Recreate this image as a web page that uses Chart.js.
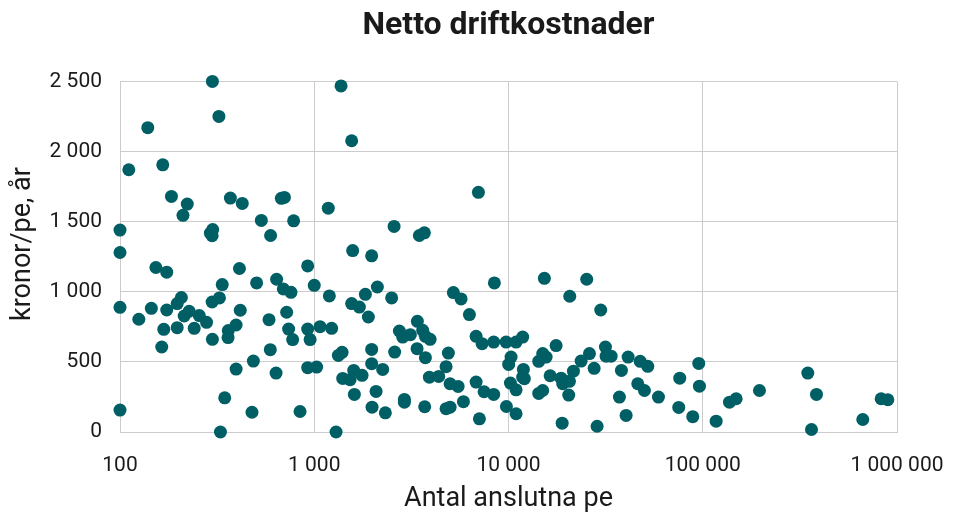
<!DOCTYPE html>
<html>
<head>
<meta charset="utf-8">
<script src="https://cdn.jsdelivr.net/npm/chart.js@4"></script>
<style>
  html, body { margin: 0; padding: 0; background: #fff; }
  canvas { display: block; }
</style>
</head>
<body>
<canvas id="scatter_chart" width="958" height="515"></canvas>
<script>
// antal anslutna pe per anläggning
const antalPe = [
  100, 100, 111, 139, 166, 184, 222, 211, 299, 323,
  292, 300, 298, 370, 426, 534, 596, 677, 702, 783,
  925, 153, 174, 412, 336, 505, 640, 693, 759, 1000,
  100, 125, 145, 174, 197, 207, 197, 168, 164, 214,
  227, 256, 241, 279, 298, 325, 299, 416, 396, 361,
  360, 585, 721, 738, 774, 594, 486, 396, 636, 925,
  952, 925, 1029, 346, 100, 478, 845, 329,
  1374, 1558, 1181, 7000, 2576, 3476, 3689, 1577, 1975, 1196,
  1558, 1707, 1833, 2113, 2503, 1899, 5202, 5701, 8460, 6291,
  1071, 1229, 3395, 2743, 2852, 3125, 3616, 3734, 3948, 6811,
  7313, 8389, 9719, 10940, 1331, 1391, 1975, 1975, 2594, 3383,
  3734, 4903, 4771, 1401, 1529, 1596, 1763, 2250, 1609, 2081,
  3915, 4372, 5003, 5503, 6811, 7487, 8389, 10310, 10020, 10230,
  10940, 2911, 2911, 1984, 2323, 3703, 4771, 5003, 5860, 7083,
  9755, 10940, 1295,
  15300, 25270, 20670, 29840, 11830, 17580, 15000, 14310, 15620, 11930,
  11830, 12070, 16380, 18660, 19010, 20590, 21590, 23650, 26110, 27600,
  31550, 31810, 33750, 41290, 47620, 52110, 38140, 46280, 50100, 37240,
  59150, 76130, 95370, 96160, 75230, 88820, 117200, 14310, 15000, 20420,
  18890, 28590, 40320,
  137300, 148600, 195900, 347300, 385000, 362900, 666600, 828800, 896900
];

// netto driftkostnad, kronor/pe och år
const kronorPerPe = [
  1440, 1280, 1870, 2170, 1905, 1680, 1625, 1545, 2500, 2250,
  1418, 1444, 1400, 1668, 1630, 1509, 1401, 1666, 1673, 1506,
  1184, 1173, 1140, 1166, 1051, 1063, 1089, 1020, 996, 1046,
  889, 804, 882, 870, 916, 959, 744, 732, 606, 827,
  861, 830, 739, 782, 927, 956, 661, 868, 763, 723,
  673, 801, 854, 734, 659, 587, 506, 449, 420, 734,
  659, 459, 463, 244, 156, 141, 146, 0,
  2468, 2077, 1596, 1709, 1466, 1401, 1420, 1294, 1256, 970,
  916, 891, 982, 1034, 956, 820, 994, 949, 1063, 837,
  751, 739, 789, 720, 677, 694, 725, 682, 661, 682,
  630, 641, 641, 641, 546, 568, 589, 487, 570, 594,
  530, 563, 466, 382, 373, 439, 404, 446, 268, 289,
  391, 396, 344, 325, 356, 287, 268, 534, 482, 349,
  301, 232, 213, 177, 137, 180, 166, 177, 216, 94,
  182, 130, 0,
  1096, 1089, 968, 870, 677, 616, 559, 504, 534, 446,
  391, 380, 401, 384, 344, 361, 434, 506, 559, 454,
  606, 541, 541, 534, 504, 468, 439, 344, 296, 249,
  249, 384, 489, 327, 175, 109, 77, 275, 296, 263,
  63, 41, 118,
  213, 237, 296, 420, 268, 18, 89, 237, 230
];

const xTicks = [100, 1000, 10000, 100000, 1000000];
const chartTitle = 'Netto driftkostnader';
const xTitle = 'Antal anslutna pe';
const yTitle = 'kronor/pe, år';

const teal = '#005f64';
const gridColor = '#cccccc';
const textColor = '#1a1a1a';
const fontFamily = 'Roboto, "Liberation Sans", sans-serif';

// 2500 -> "2 500"
function formatNumber(v) {
  return String(v).replace(/\B(?=(\d{3})+(?!\d))/g, ' ');
}

// y-axelns titel ritas själv for att kunna placera den exakt
const yTitlePlugin = {
  id: 'yTitle',
  afterDraw(chart) {
    const ctx = chart.ctx;
    ctx.save();
    ctx.translate(23, 244);
    ctx.rotate(-Math.PI / 2);
    ctx.font = '27px ' + fontFamily;
    ctx.fillStyle = textColor;
    ctx.textAlign = 'center';
    ctx.textBaseline = 'middle';
    ctx.fillText(yTitle, 0, 0);
    ctx.restore();
  }
};

const points = antalPe.map((pe, i) => ({ x: pe, y: kronorPerPe[i] }));

new Chart(document.getElementById('scatter_chart'), {
  type: 'scatter',
  data: {
    datasets: [{
      data: points,
      backgroundColor: teal,
      borderWidth: 0,
      pointRadius: 6.5,
      pointHoverRadius: 6.5,
      clip: false
    }]
  },
  options: {
    responsive: false,
    animation: false,
    devicePixelRatio: 1,
    events: [],
    layout: {
      padding: { left: 0, right: 61, top: 0, bottom: 0 }
    },
    plugins: {
      legend: { display: false },
      tooltip: { enabled: false },
      title: {
        display: true,
        text: chartTitle,
        fullSize: false,
        color: textColor,
        font: { family: fontFamily, size: 32, weight: 'bold' },
        padding: { top: 7, bottom: 36 }
      }
    },
    scales: {
      x: {
        type: 'logarithmic',
        min: 100,
        max: 1000000,
        afterBuildTicks: (axis) => {
          axis.ticks = xTicks.map(v => ({ value: v }));
        },
        afterFit: (s) => { s.height = 83; },
        // osynliga tickmarks ger avståndet ner till etiketterna
        grid: { color: gridColor, drawTicks: true, tickLength: 21, tickColor: 'rgba(0,0,0,0)' },
        border: { color: gridColor },
        ticks: {
          color: textColor,
          padding: 0,
          maxRotation: 0,
          autoSkip: false,
          font: { family: fontFamily, size: 21 },
          callback: (v) => formatNumber(v)
        },
        title: {
          display: true,
          text: xTitle,
          color: textColor,
          font: { family: fontFamily, size: 27 },
          padding: { top: 0, bottom: 0 }
        }
      },
      y: {
        min: 0,
        max: 2500,
        afterFit: (s) => { s.width = 120; },
        grid: { color: gridColor, drawTicks: false },
        border: { color: gridColor },
        ticks: {
          stepSize: 500,
          color: textColor,
          padding: 18,
          font: { family: fontFamily, size: 21 },
          callback: (v) => formatNumber(v)
        }
      }
    }
  },
  plugins: [yTitlePlugin]
});
</script>
</body>
</html>
